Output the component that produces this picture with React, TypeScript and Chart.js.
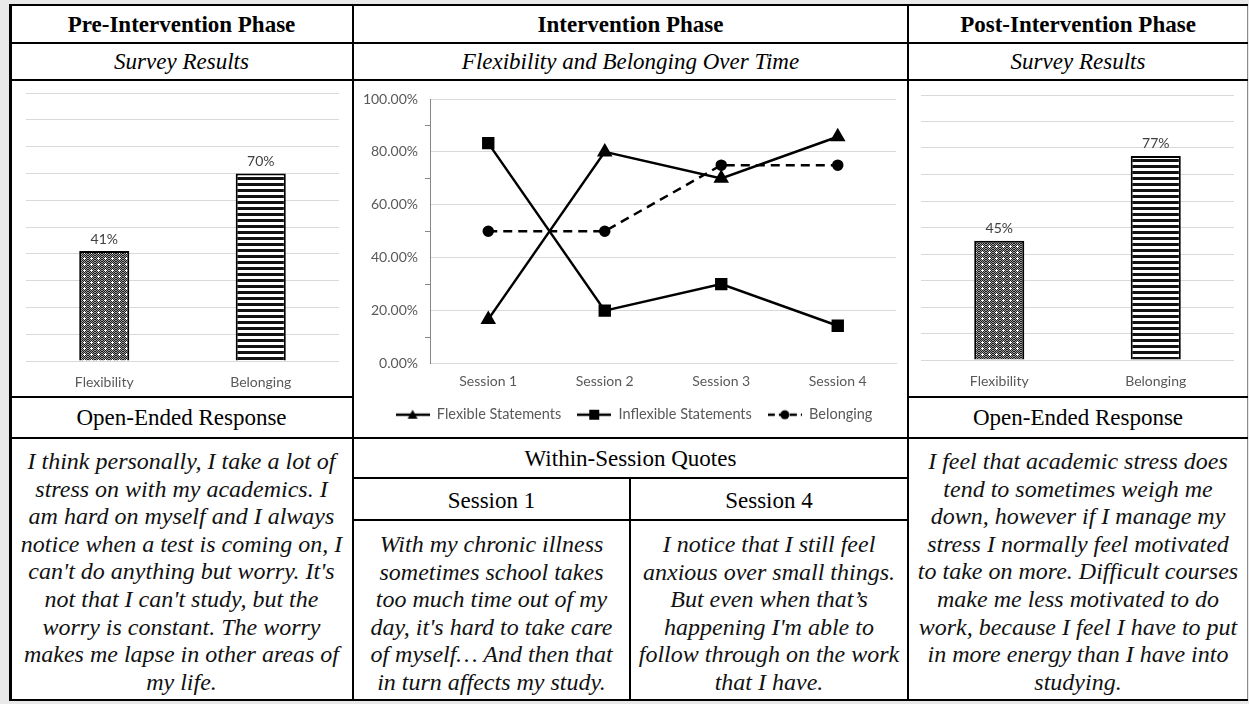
import React, { useEffect, useRef } from 'react';
import { Chart, registerables } from 'chart.js';

Chart.register(...registerables);

// ---------- data ----------
const BAR_CATEGORIES = ['Flexibility', 'Belonging'];
const PRE_VALUES = [41, 70];
const POST_VALUES = [45, 77];

const SESSIONS = ['Session 1', 'Session 2', 'Session 3', 'Session 4'];
const FLEXIBLE = [16.67, 80, 70, 85.71];
const INFLEXIBLE = [83.33, 20, 30, 14.29];
const BELONGING = [50, 50, 75, 75];
const SERIES_NAMES = ['Flexible Statements', 'Inflexible Statements', 'Belonging'];

const PRE_QUOTE = [
  'I think personally, I take a lot of',
  'stress on with my academics. I',
  'am hard on myself and I always',
  'notice when a test is coming on, I',
  "can't do anything but worry. It's",
  "not that I can't study, but the",
  'worry is constant. The worry',
  'makes me lapse in other areas of',
  'my life.',
];
const SESSION1_QUOTE = [
  'With my chronic illness',
  'sometimes school takes',
  'too much time out of my',
  "day, it's hard to take care",
  'of myself\u2026 And then that',
  'in turn affects my study.',
];
const SESSION4_QUOTE = [
  'I notice that I still feel',
  'anxious over small things.',
  'But even when that\u2019s',
  "happening I'm able to",
  'follow through on the work',
  'that I have.',
];
const POST_QUOTE = [
  'I feel that academic stress does',
  'tend to sometimes weigh me',
  'down, however if I manage my',
  'stress I normally feel motivated',
  'to take on more. Difficult courses',
  'make me less motivated to do',
  'work, because I feel I have to put',
  'in more energy than I have into',
  'studying.',
];

const SERIF = '"Liberation Serif", "Times New Roman", serif';
const SANS = 'Lato, "Open Sans", sans-serif';
const GRID = '#d9d9d9';
const LABEL = '#595959';

// ---------- patterns ----------
function dotPattern(): CanvasPattern {
  const c = document.createElement('canvas');
  c.width = 7;
  c.height = 6;
  const g = c.getContext('2d')!;
  for (let y = 0; y < 6; y++)
    for (let x = 0; x < 7; x++) {
      g.fillStyle = (x + y) % 2 === 0 ? '#1c1c1c' : '#9a9a9a';
      g.fillRect(x, y, 1, 1);
    }
  g.fillStyle = '#ffffff';
  g.fillRect(2, 3, 3, 1);
  g.fillRect(3, 2, 1, 3);
  return g.createPattern(c, 'repeat')!;
}

function stripePattern(): CanvasPattern {
  const c = document.createElement('canvas');
  c.width = 6;
  c.height = 6;
  const g = c.getContext('2d')!;
  g.fillStyle = '#ffffff';
  g.fillRect(0, 0, 6, 6);
  g.fillStyle = '#111111';
  g.fillRect(0, 0, 6, 3);
  return g.createPattern(c, 'repeat')!;
}

const valueLabels = {
  id: 'valueLabels',
  afterDatasetsDraw(chart: any) {
    const ctx = chart.ctx;
    const meta = chart.getDatasetMeta(0);
    const data = chart.data.datasets[0].data;
    ctx.save();
    ctx.font = `14px ${SANS}`;
    ctx.fillStyle = '#404040';
    ctx.textAlign = 'center';
    ctx.textBaseline = 'middle';
    meta.data.forEach((bar: any, i: number) => {
      ctx.fillText(`${data[i]}%`, bar.x, bar.y - 12);
    });
    ctx.restore();
  },
};

const legendShift = {
  id: 'legendShift',
  afterLayout(chart: any) {
    const l = chart.legend;
    if (l) {
      l.left += 9;
      l.right += 9;
    }
  },
};

function BarPanel(props: {
  values: number[];
  left: number;
  top: number;
  width: number;
  height: number;
  padding: { left: number; right: number; top: number; bottom: number };
  axisHeight: number;
}) {
  const ref = useRef<HTMLCanvasElement>(null);
  useEffect(() => {
    const chart = new Chart(ref.current!, {
      type: 'bar',
      data: {
        labels: BAR_CATEGORIES,
        datasets: [
          {
            data: props.values,
            backgroundColor: [dotPattern(), stripePattern()] as any,
            borderColor: '#000000',
            borderWidth: 2,
            barPercentage: 0.32,
            categoryPercentage: 1,
          },
        ],
      },
      options: {
        animation: false,
        responsive: false,
        maintainAspectRatio: false,
        layout: { padding: props.padding },
        plugins: { legend: { display: false }, tooltip: { enabled: false } },
        scales: {
          x: {
            grid: { display: false, drawTicks: false },
            border: { display: false },
            ticks: { color: LABEL, font: { family: SANS, size: 14 }, padding: 13 },
            afterFit: (s: any) => {
              s.height = props.axisHeight;
            },
          },
          y: {
            min: 0,
            max: 100,
            ticks: { display: false, stepSize: 10 },
            grid: { color: GRID, drawTicks: false },
            border: { display: false },
          },
        },
      } as any,
      plugins: [valueLabels],
    });
    return () => chart.destroy();
  }, []);
  return (
    <canvas
      ref={ref}
      width={props.width}
      height={props.height}
      style={{ position: 'absolute', left: props.left, top: props.top, width: props.width, height: props.height }}
    />
  );
}

function legendImage(kind: number): HTMLCanvasElement {
  const c = document.createElement('canvas');
  c.width = 34;
  c.height = 14;
  const g = c.getContext('2d')!;
  g.strokeStyle = '#000';
  g.fillStyle = '#000';
  g.lineWidth = 2.5;
  if (kind === 2) g.setLineDash([7, 4]);
  g.beginPath();
  g.moveTo(0, 7);
  g.lineTo(34, 7);
  g.stroke();
  g.setLineDash([]);
  if (kind === 0) {
    g.beginPath();
    g.moveTo(17, 2);
    g.lineTo(22, 11);
    g.lineTo(12, 11);
    g.closePath();
    g.fill();
  } else if (kind === 1) {
    g.fillRect(12, 2, 10, 10);
  } else {
    g.beginPath();
    g.arc(17, 7, 4.5, 0, Math.PI * 2);
    g.fill();
  }
  return c;
}

function LinePanel() {
  const ref = useRef<HTMLCanvasElement>(null);
  useEffect(() => {
    const imgs = [legendImage(0), legendImage(1), legendImage(2)];
    const base = { borderColor: '#000', backgroundColor: '#000', borderWidth: 2.5, tension: 0, fill: false };
    const chart = new Chart(ref.current!, {
      type: 'line',
      data: {
        labels: SESSIONS,
        datasets: [
          { ...base, label: SERIES_NAMES[0], data: FLEXIBLE, pointStyle: 'triangle', pointRadius: 6.5 },
          { ...base, label: SERIES_NAMES[1], data: INFLEXIBLE, pointStyle: 'rect', pointRadius: 7 },
          { ...base, label: SERIES_NAMES[2], data: BELONGING, pointStyle: 'circle', pointRadius: 4.5, borderDash: [9, 6] },
        ],
      },
      options: {
        animation: false,
        responsive: false,
        maintainAspectRatio: false,
        layout: { padding: { left: 0, right: 11, top: 18, bottom: 5 } },
        plugins: {
          tooltip: { enabled: false },
          legend: {
            position: 'bottom',
            labels: {
              usePointStyle: true,
              pointStyleWidth: 34,
              color: LABEL,
              font: { family: SANS, size: 14.5 },
              padding: 16,
              generateLabels: (ch: any) =>
                ch.data.datasets.map((ds: any, i: number) => ({
                  text: ds.label,
                  pointStyle: imgs[i],
                  fillStyle: '#000',
                  strokeStyle: '#000',
                  lineWidth: 0,
                  hidden: false,
                  datasetIndex: i,
                  fontColor: LABEL,
                })),
            },
          },
        },
        scales: {
          x: {
            offset: true,
            grid: { display: false, drawTicks: false },
            border: { color: GRID, width: 1 },
            ticks: { color: LABEL, font: { family: SANS, size: 14 }, padding: 10 },
            afterFit: (s: any) => {
              s.height = 28;
            },
          },
          y: {
            min: 0,
            max: 100,
            ticks: {
              stepSize: 10,
              color: LABEL,
              font: { family: SANS, size: 14 },
              padding: 7,
              callback: (v: any) => (Number(v) % 20 === 0 ? `${Number(v).toFixed(2)}%` : ''),
            },
            grid: {
              color: (c: any) => (c.tick && c.tick.value % 20 === 0 ? GRID : 'rgba(0,0,0,0)'),
              tickColor: (c: any) => (c.tick && c.tick.value % 20 === 0 ? 'rgba(0,0,0,0)' : '#868686'),
              tickLength: 5,
            },
            border: { color: '#868686', width: 1 },
            afterFit: (s: any) => {
              s.width = 76;
            },
          },
        },
      } as any,
      plugins: [legendShift],
    });
    return () => chart.destroy();
  }, []);
  return (
    <canvas
      ref={ref}
      width={553}
      height={356}
      style={{ position: 'absolute', left: 354, top: 81, width: 553, height: 356 }}
    />
  );
}

function TextCell(props: {
  x: number;
  y: number;
  w: number;
  h: number;
  text: string;
  bold?: boolean;
  italic?: boolean;
}) {
  return (
    <div
      style={{
        position: 'absolute',
        left: props.x,
        top: props.y,
        width: props.w,
        height: props.h,
        display: 'flex',
        alignItems: 'center',
        justifyContent: 'center',
        fontFamily: SERIF,
        fontSize: 23,
        fontWeight: props.bold ? 'bold' : 'normal',
        fontStyle: props.italic ? 'italic' : 'normal',
        color: '#000',
        whiteSpace: 'nowrap',
        lineHeight: 1,
      }}
    >
      {props.text}
    </div>
  );
}

function Quote(props: { x: number; y: number; w: number; lines: string[] }) {
  return (
    <div
      style={{
        position: 'absolute',
        left: props.x,
        top: props.y,
        width: props.w,
        textAlign: 'center',
        fontFamily: SERIF,
        fontSize: 24,
        fontStyle: 'italic',
        lineHeight: '27.6px',
        color: '#111',
        whiteSpace: 'nowrap',
      }}
    >
      {props.lines.map((l, i) => (
        <div key={i}>{l}</div>
      ))}
    </div>
  );
}

export default function App() {
  const hLines: [number, number, number][] = [
    [9, 1248, 4],
    [9, 1248, 42],
    [9, 1248, 79],
    [9, 354, 396],
    [907, 1248, 396],
    [9, 1248, 437],
    [352, 909, 477],
    [352, 909, 519],
    [9, 1248, 699],
  ];
  const vLines: [number, number, number][] = [
    [9, 4, 701],
    [352, 4, 701],
    [629, 477, 701],
    [907, 4, 701],
  ];
  return (
    <div
      style={{
        position: 'absolute',
        left: 0,
        top: 0,
        width: 1249,
        height: 704,
        background: '#e9e9e9',
        overflow: 'hidden',
      }}
    >
      <div style={{ position: 'absolute', left: 9, top: 4, width: 1239, height: 697, background: '#fff' }} />
      <div style={{ position: 'absolute', left: 1247, top: 4, width: 1, height: 697, background: '#8c8c8c' }} />

      <TextCell x={11} y={6} w={341} h={36} text="Pre-Intervention Phase" bold />
      <TextCell x={354} y={6} w={553} h={36} text="Intervention Phase" bold />
      <TextCell x={909} y={6} w={338} h={36} text="Post-Intervention Phase" bold />

      <TextCell x={11} y={44} w={341} h={35} text="Survey Results" italic />
      <TextCell x={354} y={44} w={553} h={35} text="Flexibility and Belonging Over Time" italic />
      <TextCell x={909} y={44} w={338} h={35} text="Survey Results" italic />

      <BarPanel
        values={PRE_VALUES}
        left={11}
        top={81}
        width={341}
        height={315}
        padding={{ left: 15, right: 13, top: 12, bottom: 0 }}
        axisHeight={35}
      />
      <LinePanel />
      <BarPanel
        values={POST_VALUES}
        left={909}
        top={81}
        width={338}
        height={315}
        padding={{ left: 12, right: 13, top: 14, bottom: 0 }}
        axisHeight={36}
      />

      <TextCell x={11} y={398} w={341} h={39} text="Open-Ended Response" />
      <TextCell x={909} y={398} w={338} h={39} text="Open-Ended Response" />

      <TextCell x={354} y={439} w={553} h={38} text="Within-Session Quotes" />
      <TextCell x={354} y={481} w={275} h={38} text="Session 1" />
      <TextCell x={631} y={481} w={276} h={38} text="Session 4" />

      <Quote x={11} y={448} w={341} lines={PRE_QUOTE} />
      <Quote x={354} y={531} w={275} lines={SESSION1_QUOTE} />
      <Quote x={631} y={531} w={276} lines={SESSION4_QUOTE} />
      <Quote x={909} y={448} w={338} lines={POST_QUOTE} />

      {hLines.map(([x1, x2, y], i) => (
        <div key={`h${i}`} style={{ position: 'absolute', left: x1, top: y, width: x2 - x1, height: 2, background: '#000' }} />
      ))}
      {vLines.map(([x, y1, y2], i) => (
        <div key={`v${i}`} style={{ position: 'absolute', left: x, top: y1, width: i === 0 ? 3 : 2, height: y2 - y1, background: '#000' }} />
      ))}
    </div>
  );
}
